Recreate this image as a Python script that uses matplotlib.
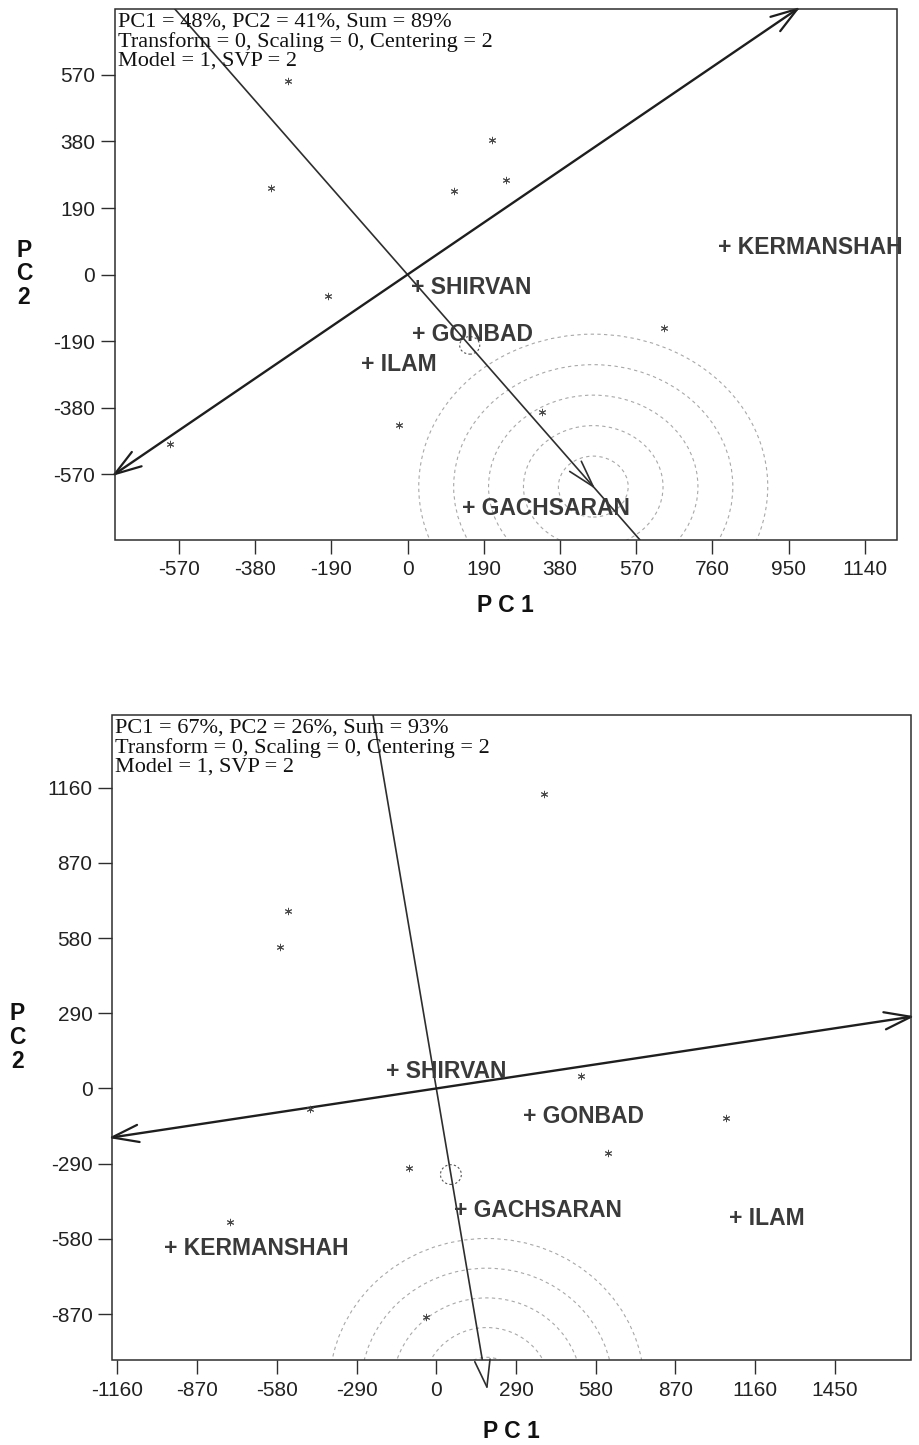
import numpy as np
import matplotlib
matplotlib.use("Agg")
import matplotlib.pyplot as plt
from matplotlib.patches import Circle, Rectangle

# ---------------- data ----------------
# top biplot
top_header = ["PC1 = 48%, PC2 = 41%, Sum = 89%",
              "Transform = 0, Scaling = 0, Centering = 2",
              "Model = 1, SVP = 2"]
top_gen_x = [-298, 210, -341, 115, 245, -199, 640, -22, 334, -593]
top_gen_y = [553, 384, 246, 238, 269, -62, -151, -430, -392, -484]
top_env_names = ["KERMANSHAH", "SHIRVAN", "GONBAD", "ILAM", "GACHSARAN"]
top_env_x = [789, 23, 26, -102, 151]
top_env_y = [80, -34, -169, -256, -666]
top_ideal = (463, -605)          # tip of the AEC arrow / centre of circles
top_avg_env = (155, -202)        # small average-environment circle
top_avg_r = 25
top_circle_step = 87
top_atc_slope = 0.78
top_xlim = (-730, 1219)
top_ylim = (-756, 758)
top_xticks = [-570, -380, -190, 0, 190, 380, 570, 760, 950, 1140]
top_yticks = [-570, -380, -190, 0, 190, 380, 570]

# bottom biplot
bot_header = ["PC1 = 67%, PC2 = 26%, Sum = 93%",
              "Transform = 0, Scaling = 0, Centering = 2",
              "Model = 1, SVP = 2"]
bot_gen_x = [393, -541, -568, 527, -459, 1053, 626, -101, -749, -39]
bot_gen_y = [1135, 683, 546, 49, -81, -114, -248, -307, -514, -881]
bot_env_names = ["SHIRVAN", "GONBAD", "GACHSARAN", "ILAM", "KERMANSHAH"]
bot_env_x = [-162, 336, 87, 1087, -969]
bot_env_y = [67, -107, -470, -499, -615]
bot_ideal = (184, -1151)
bot_avg_env = (53, -332)
bot_avg_r = 38
bot_circle_step = 114.5
bot_atc_slope = 0.16
bot_xlim = (-1180, 1727)
bot_ylim = (-1047, 1440)
bot_xticks = [-1160, -870, -580, -290, 0, 290, 580, 870, 1160, 1450]
bot_yticks = [-870, -580, -290, 0, 290, 580, 870, 1160]

n_circles = 5

# ---------------- styling ----------------
W, H = 920, 1445
fig = plt.figure(figsize=(W / 100, H / 100), dpi=100)

LINE = "#2e2e2e"
LABEL = "#3a3a3a"
SANS = ["Liberation Sans", "DejaVu Sans"]
SERIF = ["Liberation Serif", "DejaVu Serif"]


def px_axes(l, t, r, b):
    return fig.add_axes([l / W, 1 - b / H, (r - l) / W, (b - t) / H])


def box_segment(slope, xlim, ylim):
    # line through origin with direction (1, slope), clipped to the box
    tx = sorted(xlim)
    ty = sorted([ylim[0] / slope, ylim[1] / slope])
    lo = max(tx[0], ty[0])
    hi = min(tx[1], ty[1])
    return (lo, lo * slope), (hi, hi * slope)


def head(ax, tip, direction, length=28, half_angle=17, lw=1.3, color=LINE):
    T = ax.transData
    tip_d = T.transform(tip)
    prev_d = T.transform((tip[0] - direction[0] * 1e-3, tip[1] - direction[1] * 1e-3))
    u = tip_d - prev_d
    u = u / np.hypot(*u)
    back = -u
    inv = T.inverted()
    for sgn in (1, -1):
        a = np.deg2rad(sgn * half_angle)
        rot = np.array([[np.cos(a), -np.sin(a)], [np.sin(a), np.cos(a)]])
        end_d = tip_d + length * rot.dot(back)
        p = inv.transform([tip_d, end_d])
        ax.plot(p[:, 0], p[:, 1], color=color, lw=lw, clip_on=False,
                solid_capstyle="round", zorder=4)


def draw_panel(ax, header, gx, gy, names, ex, ey, ideal, avg, avg_r, step,
               atc_slope, xlim, ylim, xticks, yticks):
    ax.set_xlim(*xlim)
    ax.set_ylim(*ylim)
    ax.set_autoscale_on(False)
    ax.set_xticks(xticks)
    ax.set_yticks(yticks)
    ax.set_xticklabels([str(v) for v in xticks])
    ax.set_yticklabels([str(v) for v in yticks])
    for s in ax.spines.values():
        s.set_visible(False)
    ax.add_patch(Rectangle((0, 0), 1, 1, transform=ax.transAxes, fill=False,
                           edgecolor=LINE, lw=1.1, clip_on=False, zorder=5))
    ax.tick_params(direction="out", length=10, width=1.0, color=LINE,
                   labelsize=15, labelcolor="#222222")
    ax.tick_params(axis="x", pad=5)
    ax.tick_params(axis="y", pad=4)
    for lab in ax.get_xticklabels() + ax.get_yticklabels():
        lab.set_family(SANS)

    # concentric circles around the ideal point
    for k in range(1, n_circles + 1):
        ax.add_patch(Circle(ideal, k * step, fill=False, edgecolor="#a8a8a8",
                            lw=0.8, linestyle=(0, (3, 3)), zorder=1))
    ax.add_patch(Circle(avg, avg_r, fill=False, edgecolor="#555555",
                        lw=0.8, linestyle=(0, (2, 2)), zorder=2))

    # average environment coordination (AEC) line with arrow at ideal point
    aec_slope = ideal[1] / ideal[0]
    p0, p1 = box_segment(aec_slope, xlim, ylim)
    ax.plot([p0[0], p1[0]], [p0[1], p1[1]], color=LINE, lw=1.2, zorder=3)
    head(ax, ideal, (ideal[0], ideal[1]), length=28, half_angle=16, lw=1.2)

    # perpendicular double-headed line
    q0, q1 = box_segment(atc_slope, xlim, ylim)
    ax.plot([q0[0], q1[0]], [q0[1], q1[1]], color="#1e1e1e", lw=1.7, zorder=3)
    head(ax, q1, (1, atc_slope), length=28, half_angle=18, lw=1.6, color="#1e1e1e")
    head(ax, q0, (-1, -atc_slope), length=28, half_angle=18, lw=1.6, color="#1e1e1e")

    # genotypes
    ax.scatter(gx, gy, marker=(6, 2, 0), s=22, linewidths=0.7,
               color="#4a4a4a", zorder=4)

    # environments
    for n, x, y in zip(names, ex, ey):
        ax.annotate("+ " + n, xy=(x, y), xytext=(-6, -7),
                    textcoords="offset pixels", ha="left", va="baseline",
                    fontsize=16.5, fontweight="bold", color=LABEL,
                    family=SANS, annotation_clip=False, zorder=6)

    # header text
    for i, line in enumerate(header):
        ax.annotate(line, xy=(0, 1), xycoords="axes fraction",
                    xytext=(3, -18 - 19.5 * i), textcoords="offset pixels",
                    ha="left", va="baseline", fontsize=16, family=SERIF,
                    color="#111111", zorder=6)


ax1 = px_axes(114.7, 9, 896.5, 539.5)
draw_panel(ax1, top_header, top_gen_x, top_gen_y, top_env_names, top_env_x,
           top_env_y, top_ideal, top_avg_env, top_avg_r, top_circle_step,
           top_atc_slope, top_xlim, top_ylim, top_xticks, top_yticks)

ax2 = px_axes(112, 715, 911, 1360)
draw_panel(ax2, bot_header, bot_gen_x, bot_gen_y, bot_env_names, bot_env_x,
           bot_env_y, bot_ideal, bot_avg_env, bot_avg_r, bot_circle_step,
           bot_atc_slope, bot_xlim, bot_ylim, bot_xticks, bot_yticks)

# axis titles
lab_kw = dict(ha="center", va="center", fontsize=16.5, fontweight="bold",
              family=SANS, color="#111111")
fig.text(505 / W, 1 - 605 / H, "P C 1", **lab_kw)
fig.text(24 / W, 1 - 274 / H, "P\nC\n2", linespacing=1.05, **lab_kw)
fig.text(511 / W, 1 - 1432 / H, "P C 1", **lab_kw)
fig.text(17.5 / W, 1 - 1037.5 / H, "P\nC\n2", linespacing=1.05, **lab_kw)

fig.savefig("out.png", dpi=100, facecolor="white")
